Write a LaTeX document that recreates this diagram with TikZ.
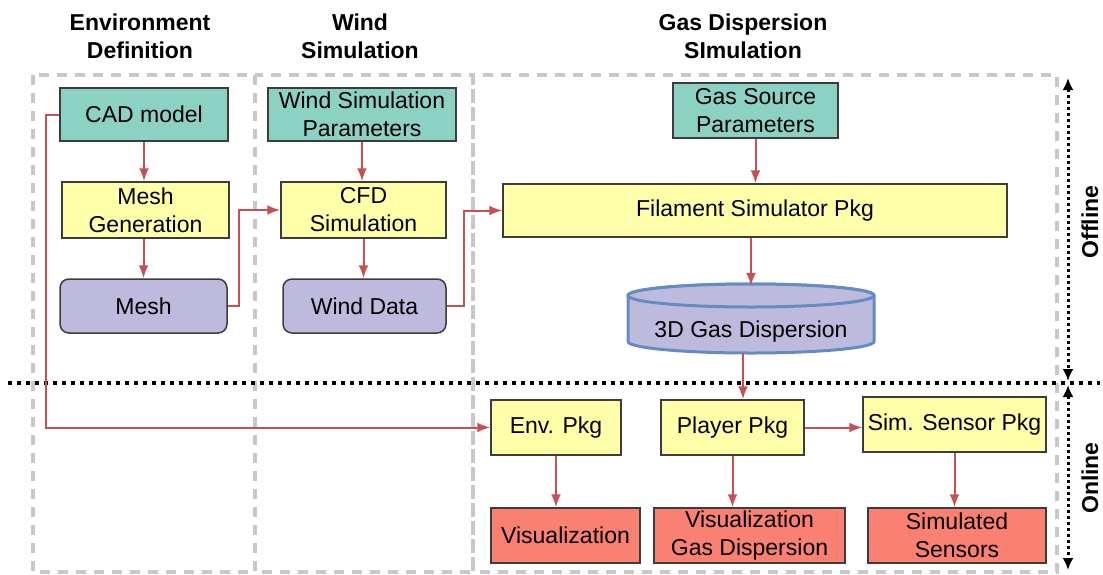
\documentclass[tikz,border=0pt]{standalone}
\usepackage{fontspec}
\setmainfont{Liberation Sans}
\usepackage{tikz}
\usetikzlibrary{arrows.meta}
\usetikzlibrary{shapes}
\usetikzlibrary{scopes}

\definecolor{inputcol}{RGB}{140,210,196}
\definecolor{proccol}{RGB}{255,255,170}
\definecolor{datacol}{RGB}{190,186,222}
\definecolor{outcol}{RGB}{250,128,114}
\definecolor{flowcol}{RGB}{200,80,80}
\definecolor{framecol}{RGB}{200,200,200}
\definecolor{cylcol}{RGB}{100,140,195}

\tikzset{
	box/.style={draw={rgb,255:red,60;green,60;blue,60}, line width=1.5pt,
		align=center, inner sep=0pt, font=\fontsize{23}{28}\selectfont},
	inputbox/.style={box, fill=inputcol},
	procbox/.style={box, fill=proccol},
	databox/.style={box, fill=datacol, rounded corners=9pt},
	outbox/.style={box, fill=outcol},
	store/.style={draw=cylcol, line width=3pt, fill=datacol},
	flow/.style={draw=flowcol, line width=2pt,
		-{Latex[length=13pt,width=10pt]}},
	colframe/.style={draw=framecol, line width=3.5pt, dash pattern=on 10pt off 8pt},
	phase/.style={line width=3pt, dash pattern=on 3pt off 3pt,
		{Latex[length=12pt,width=11pt]}-{Latex[length=12pt,width=11pt]}},
	title/.style={align=center, font=\fontsize{23}{28}\selectfont\bfseries}
}

\begin{document}
\begin{tikzpicture}[x=1pt,y=-1pt]
		\useasboundingbox (0,0) rectangle (1103,574);
		% Column frames and their titles
		\draw[colframe] (33,75) rectangle (255,572);
		\draw[colframe] (255,75) rectangle (473,572);
		\draw[colframe] (473,75) rectangle (1057,572);
		\node[title] (envtitle) at (140,36) {Environment\\Definition};
		\node[title] (windtitle) at (360,36) {Wind\\Simulation};
		\node[title] (gastitle) at (743,36) {Gas Dispersion\\SImulation};

		% Offline / online split
		\draw[line width=4pt, dash pattern=on 4pt off 5pt]
			(8,383) coordinate (Split Left) -- (1100,383) coordinate (Split Right);
		\draw[phase] (1068,78) coordinate (Offline Top) -- (1068,381)
			coordinate (Offline Bottom);
		\draw[phase] (1068,385) coordinate (Online Top) -- (1068,570)
			coordinate (Online Bottom);
		\node[rotate=90, font=\fontsize{23}{28}\selectfont\bfseries] (offline)
			at (1090,222) {Offline};
		\node[rotate=90, font=\fontsize{23}{28}\selectfont\bfseries] (online)
			at (1090,478) {Online};

		% Environment definition
		\node[inputbox, minimum width=168, minimum height=53] (cad) at (144,114.5) {CAD model};
		\node[procbox, minimum width=167, minimum height=56] (meshgen) at (145.5,210) {Mesh\\Generation};
		\node[databox, minimum width=167, minimum height=54] (mesh) at (143.5,306) {Mesh};

		% Wind simulation
		\node[inputbox, minimum width=188, minimum height=53] (windpar) at (362,114.5) {Wind Simulation\\Parameters};
		\node[procbox, minimum width=165, minimum height=56] (cfd) at (363.5,210) {CFD\\Simulation};
		\node[databox, minimum width=163, minimum height=54] (winddata) at (364.5,306) {Wind Data};

		% Gas dispersion simulation
		\node[inputbox, minimum width=165, minimum height=55] (gassrc) at (755.5,110.5) {Gas Source\\Parameters};
		\node[procbox, minimum width=504, minimum height=53] (filament) at (755,210.5) {Filament Simulator Pkg};
		% the stored dispersion: drum body, then its lid
		\filldraw[store] (628,295.5) coordinate (Drum Top Left) -- (628,341.5)
			arc[start angle=180, end angle=360, x radius=123pt, y radius=11.5pt]
			-- (874,295.5) coordinate (Drum Top Right)
			arc[start angle=0, end angle=180, x radius=123pt, y radius=11.5pt] -- cycle;
		\draw[store] (751,295.5) ellipse [x radius=123pt, y radius=11.5pt];
		\node[minimum width=246, minimum height=69, inner sep=0pt,
			font=\fontsize{23}{28}\selectfont] (gasdisp) at (751,318.5)
			{\raisebox{-19pt}[0pt][0pt]{3D Gas Dispersion}};

		% Online packages and outputs
		\node[procbox, minimum width=130, minimum height=55] (envpkg) at (556,427.5) {Env. Pkg};
		\node[procbox, minimum width=143, minimum height=55] (player) at (732.5,427.5) {Player Pkg};
		\node[procbox, minimum width=183, minimum height=55] (simsensor) at (954.5,424.5) {Sim. Sensor Pkg};
		\node[outbox, minimum width=149, minimum height=55] (vis) at (565.5,535.5) {Visualization};
		\node[outbox, minimum width=191, minimum height=55] (visgas) at (749.5,535.5) {Visualization\\Gas Dispersion};
		\node[outbox, minimum width=178, minimum height=55] (simsens) at (957,535.5) {Simulated\\Sensors};

		% Data flow
		\draw[flow] (cad) -- (cad |- meshgen.north);
		\draw[flow] (meshgen.south -| mesh) -- (mesh);
		\draw[flow] (mesh.east) -- ++(11,0) |- (cfd.west);
		\draw[flow] (windpar) -- (windpar |- cfd.north);
		\draw[flow] (cfd) -- (cfd |- winddata.north);
		\draw[flow] (winddata.east) -- ++(17,0) |- (filament.west);
		\draw[flow] (gassrc) -- (gassrc |- filament.north);
		\draw[flow] (filament.south -| gasdisp) -- ([yshift=-2pt]gasdisp.north);
		\draw[flow] ([xshift=-8pt]gasdisp.south) -- ([xshift=-8pt]gasdisp.south |- player.north);
		\draw[flow] (cad.west) -- ++(-13,0) |- (envpkg.west);
		\draw[flow] (player.east) -- (player.east -| simsensor.west);
		\draw[flow] (envpkg) -- (envpkg |- vis.north);
		\draw[flow] (player) -- (player |- visgas.north);
		\draw[flow] (simsensor) -- (simsensor |- simsens.north);
	\end{tikzpicture}
\end{document}
